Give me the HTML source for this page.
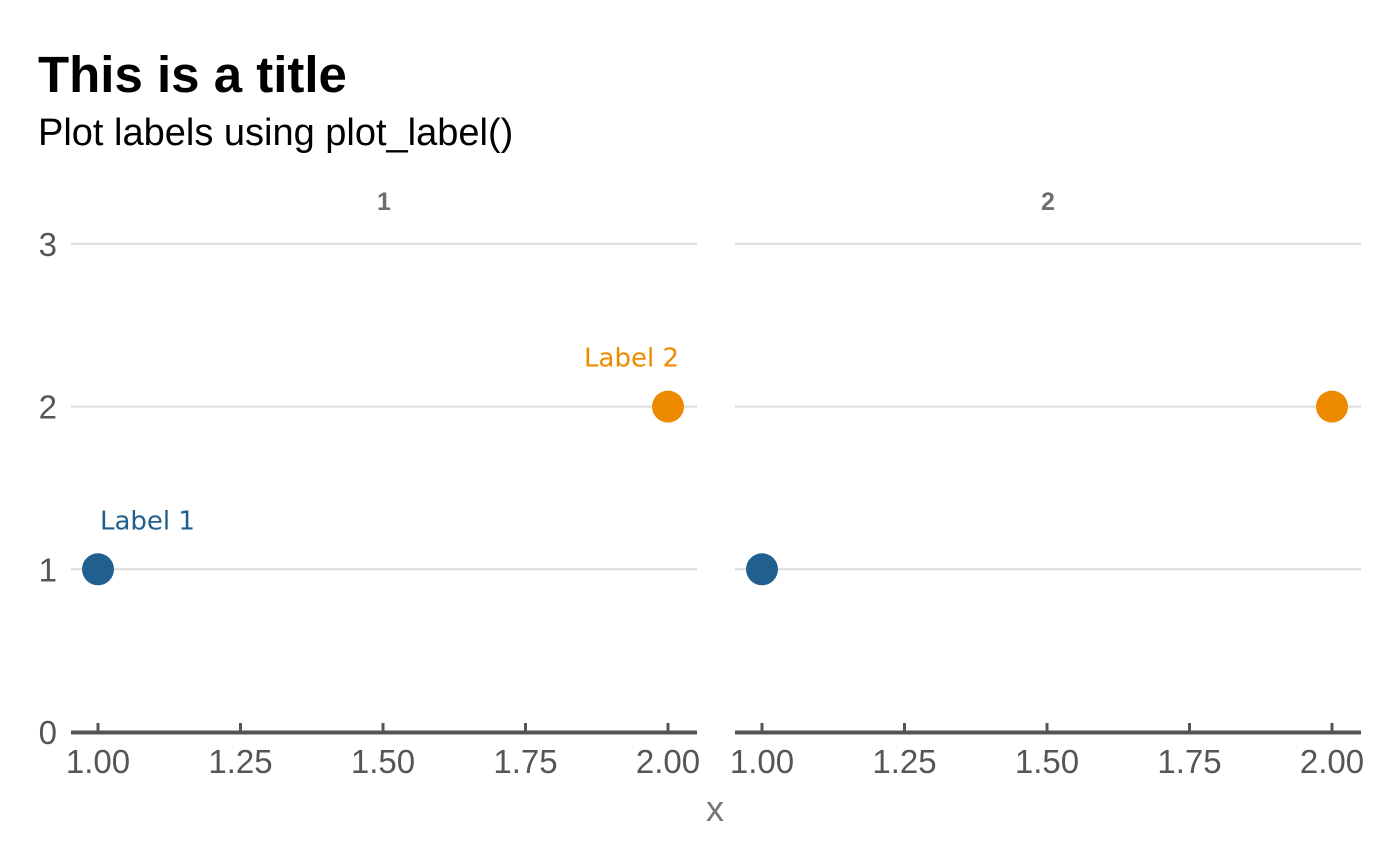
<!DOCTYPE html>
<html><head><meta charset="utf-8">
<style>
html,body{margin:0;padding:0;background:#fff;}
svg{display:block;font-family:"Liberation Sans",sans-serif;}
</style></head>
<body>
<svg id="chart" width="1400" height="865" xmlns="http://www.w3.org/2000/svg">
<text x="38" y="92" font-size="51" font-weight="bold" fill="#000">This is a title</text>
<text x="38" y="145" font-size="38" fill="#000">Plot labels using plot_label()</text>
<text x="715" y="821" font-size="36" fill="#777" text-anchor="middle">x</text>
</svg>
<script>
const panels = ["1","2"];
const xValues = [1, 2];
const yValues = [1, 2];
const pointColors = ["#215f8e", "#ee8a00"];
const pointLabels = ["Label 1", "Label 2"];
const xTicks = [1.00, 1.25, 1.50, 1.75, 2.00];
const xTickLabels = ["1.00","1.25","1.50","1.75","2.00"];
const yTicks = [0, 1, 2, 3];
const yTickLabels = ["0","1","2","3"];

const svg = document.getElementById('chart');
const NS = 'http://www.w3.org/2000/svg';
const panelLeft = [71, 735], panelW = 626;
function xScale(v, p){ return panelLeft[p] + 27 + (v - 1) * 570; }
function yScale(v){ return 732 - v * 162.7; }
function mk(tag, attrs, text){
  const e = document.createElementNS(NS, tag);
  for (const k in attrs) e.setAttribute(k, attrs[k]);
  if (text !== undefined) e.textContent = text;
  svg.appendChild(e); return e;
}
yTicks.forEach((t, i) => {
  const lab = mk('text', {x: 57, y: yScale(t) + 12, 'font-size': 33, fill: '#555', 'text-anchor': 'end'}, yTickLabels[i]);
  
  
});
panels.forEach((pn, p) => {
  const strip = mk('text', {x: panelLeft[p] + panelW/2, y: 210, 'font-size': 25, 'font-weight': 'bold', fill: '#6e6e6e', 'text-anchor': 'middle'}, pn);
  
  
  yTicks.forEach(t => {
    if (t === 0) return;
    const g = mk('line', {x1: panelLeft[p], x2: panelLeft[p] + panelW, y1: yScale(t), y2: yScale(t), stroke: '#dcdcdc', 'stroke-width': 2});
    
    
  });
  const ax = mk('line', {x1: panelLeft[p], x2: panelLeft[p] + panelW, y1: 732.5, y2: 732.5, stroke: '#555', 'stroke-width': 4});
  
  
  xTicks.forEach((t, i) => {
    const tk = mk('line', {x1: xScale(t, p), x2: xScale(t, p), y1: 723, y2: 731, stroke: '#555', 'stroke-width': 3});
    
    
    const tl = mk('text', {x: xScale(t, p), y: 773, 'font-size': 33, fill: '#555', 'text-anchor': 'middle'}, xTickLabels[i]);
    
    
  });
  xValues.forEach((xv, i) => {
    const c = mk('circle', {cx: xScale(xv, p), cy: yScale(yValues[i]), r: 16, fill: pointColors[i]});
    
    
    if (p === 0) {
      const anchor = i === 0 ? 'start' : 'end';
      const lx = i === 0 ? xScale(xv, p) + 2 : xScale(xv, p) + 11;
      const l = mk('text', {x: lx, y: yScale(yValues[i]) - 40, 'font-size': 26, fill: pointColors[i], 'text-anchor': anchor, 'font-family': '"DejaVu Sans", sans-serif'}, pointLabels[i]);
      
      
    }
  });
});
</script>
</body></html>
